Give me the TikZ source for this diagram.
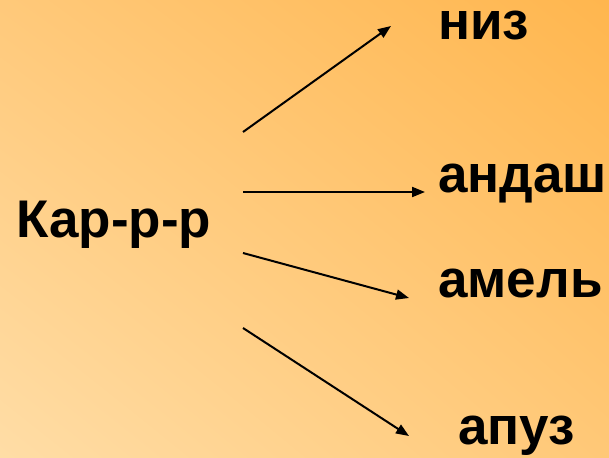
\documentclass[tikz,border=0pt]{standalone}
\usepackage{fontspec}
\setmainfont{Liberation Sans}
\usetikzlibrary{arrows.meta,shadings}
\definecolor{cTL}{HTML}{FFC97A}
\definecolor{cTR}{HTML}{FFB64E}
\definecolor{cBL}{HTML}{FFDDA6}
\definecolor{cBR}{HTML}{FFC877}
\tikzset{
  word/.style={anchor=base west, inner sep=0pt, font=\fontsize{53}{63}\selectfont\bfseries, text=black},
  link/.style={line width=2pt, -{Triangle[length=13pt,width=10pt]}}
}
\begin{document}
\begin{tikzpicture}[x=1pt,y=-1pt]
\shade[upper left=cTL, upper right=cTR, lower left=cBL, lower right=cBR] (0,0) rectangle (609,457);
\useasboundingbox (0,0) rectangle (609,457);
\node[word] (src) at (16,237) {Кар-р-р};
\node[word] (w1) at (438,40) {низ};
\node[word] (w2) at (438,192) {андаш};
\node[word] (w3) at (438,297) {амель};
\node[word] (w4) at (458,444) {апуз};
\coordinate (s1) at (243,132);
\coordinate (s2) at (243,192);
\coordinate (s3) at (243,253);
\coordinate (s4) at (243,328);
\coordinate (e1) at (391,26);
\coordinate (e2) at (425,192);
\coordinate (e3) at (409,298);
\coordinate (e4) at (409,436);
\draw[link] (s1) -- (e1);
\draw[link] (s2) -- (e2);
\draw[link] (s3) -- (e3);
\draw[link] (s4) -- (e4);
\end{tikzpicture}
\end{document}
